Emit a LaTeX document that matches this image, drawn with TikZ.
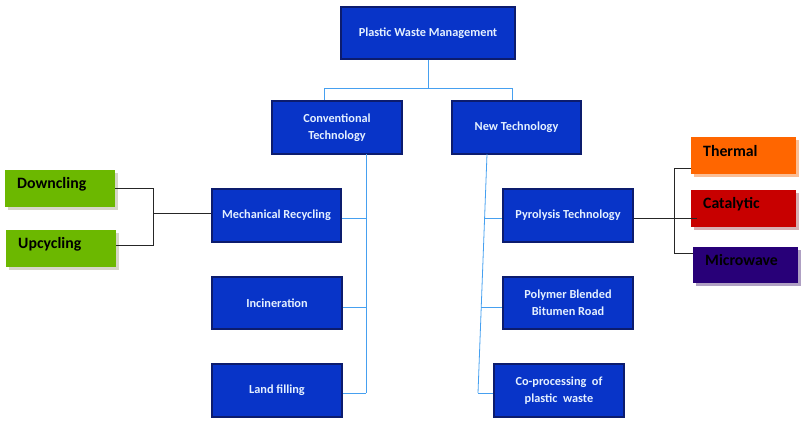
\documentclass[tikz,border=0pt]{standalone}
\usepackage{fontspec}
\setmainfont{Carlito}
\begin{document}
\begin{tikzpicture}[x=1pt,y=-1pt,
  bluebox/.style={draw=navyb,line width=1.8pt,fill=blueb,text=textb,font=\bfseries\fontsize{12.3}{17}\selectfont,align=center,inner sep=2pt},
  colbox/.style={font=\bfseries\fontsize{15.8}{18}\selectfont,text=black,inner sep=0pt,text width=#1,align=left},
  link/.style={draw=linkb,line width=0.8pt},
  blk/.style={draw=black!85,line width=0.8pt}]
\definecolor{navyb}{RGB}{12,28,110}
\definecolor{blueb}{RGB}{8,52,200}
\definecolor{textb}{RGB}{228,240,255}
\definecolor{linkb}{RGB}{70,160,240}
\definecolor{greenb}{RGB}{108,184,0}
\definecolor{greensh}{RGB}{214,214,200}
\definecolor{orangeb}{RGB}{255,102,0}
\definecolor{orangesh}{RGB}{250,190,150}
\definecolor{redb}{RGB}{200,0,0}
\definecolor{redsh}{RGB}{215,175,180}
\definecolor{purpb}{RGB}{40,0,120}
\definecolor{purpsh}{RGB}{175,160,195}
\useasboundingbox (0,0) rectangle (808,421);
\fill[white] (0,0) rectangle (808,421);
% blue boxes
\node[bluebox,minimum width=174pt,minimum height=52pt] (top) at (428,33) {Plastic Waste Management};
\node[bluebox,minimum width=130pt,minimum height=53pt] (conv) at (337,127.5) {Conventional\\Technology};
\node[bluebox,minimum width=129pt,minimum height=53pt] (newt) at (516.5,127.5) {New Technology};
\node[bluebox,minimum width=129pt,minimum height=53pt] (mech) at (276.5,215.5) {Mechanical Recycling};
\node[bluebox,minimum width=130pt,minimum height=52pt] (incin) at (277,303) {Incineration};
\node[bluebox,minimum width=130pt,minimum height=53pt] (land) at (277,390.5) {Land filling};
\node[bluebox,minimum width=130pt,minimum height=53pt] (pyro) at (568,215.5) {Pyrolysis Technology};
\node[bluebox,minimum width=130pt,minimum height=52pt] (poly) at (568,303) {Polymer Blended\\Bitumen Road};
\node[bluebox,minimum width=130pt,minimum height=53pt] (copro) at (559,390.5) {Co-processing\ \ of\\plastic\ \ waste};
% shadows
\fill[greensh] (8,173) rectangle (118,210);
\fill[greensh] (9,233) rectangle (119,270);
\fill[orangesh] (694,140) rectangle (799,177);
\fill[redsh] (694,193) rectangle (799,230);
\fill[purpsh] (696,250) rectangle (801,286);
% coloured boxes
\fill[greenb] (5,170) rectangle (115,207);
\node[colbox=90pt,anchor=west] (down) at (17,184) {Downcling};
\fill[greenb] (6,230) rectangle (116,267);
\node[colbox=90pt,anchor=west] (up) at (18,244) {Upcycling};
\fill[orangeb] (691,137) rectangle (796,174);
\node[colbox=85pt,anchor=west] (thermal) at (703,151) {Thermal};
\fill[redb] (691,190) rectangle (796,227);
\node[colbox=85pt,anchor=west] (catal) at (703,204) {Catalytic};
\fill[purpb] (693,247) rectangle (798,283);
\node[colbox=85pt,anchor=west] (micro) at (705,260) {Microwave};
% coordinates
\coordinate (tj) at (428,88);
\coordinate (cj) at (324,88);
\coordinate (nj) at (512,88);
\coordinate (cv1) at (366,154);
\coordinate (cv2) at (366,393);
\coordinate (nv1) at (487,154);
\coordinate (nv2) at (478,393);
\coordinate (nvp) at (484.6,218);
\coordinate (nvq) at (481.3,307);
\coordinate (gj) at (153,213);
\coordinate (gt) at (153,188);
\coordinate (gb) at (153,245);
\coordinate (bt) at (674,168);
\coordinate (bb) at (674,253);
% blue connectors
\draw[link] (top.south) -- (tj);
\draw[link] (cj) -- (nj);
\draw[link] (cj) -- (cj |- conv.north);
\draw[link] (nj) -- (nj |- newt.north);
\draw[link] (cv1) -- (cv2);
\draw[link] (mech.east |- 0,218) -- (366,218);
\draw[link] (incin.east |- 0,307) -- (366,307);
\draw[link] (land.east |- cv2) -- (cv2);
\draw[link] (nv1) -- (nv2);
\draw[link] (nvp) -- (pyro.west |- nvp);
\draw[link] (nvq) -- (poly.west |- nvq);
\draw[link] (nv2) -- (copro.west |- nv2);
% black connectors
\draw[blk] (115,188) -- (gt) -- (gb) -- (116,245);
\draw[blk] (gj) -- (mech.west |- gj);
\draw[blk] (691,168) -- (bt) -- (bb) -- (693,253);
\draw[blk] (pyro.east |- 0,218) -- (697,218);
\end{tikzpicture}
\end{document}
